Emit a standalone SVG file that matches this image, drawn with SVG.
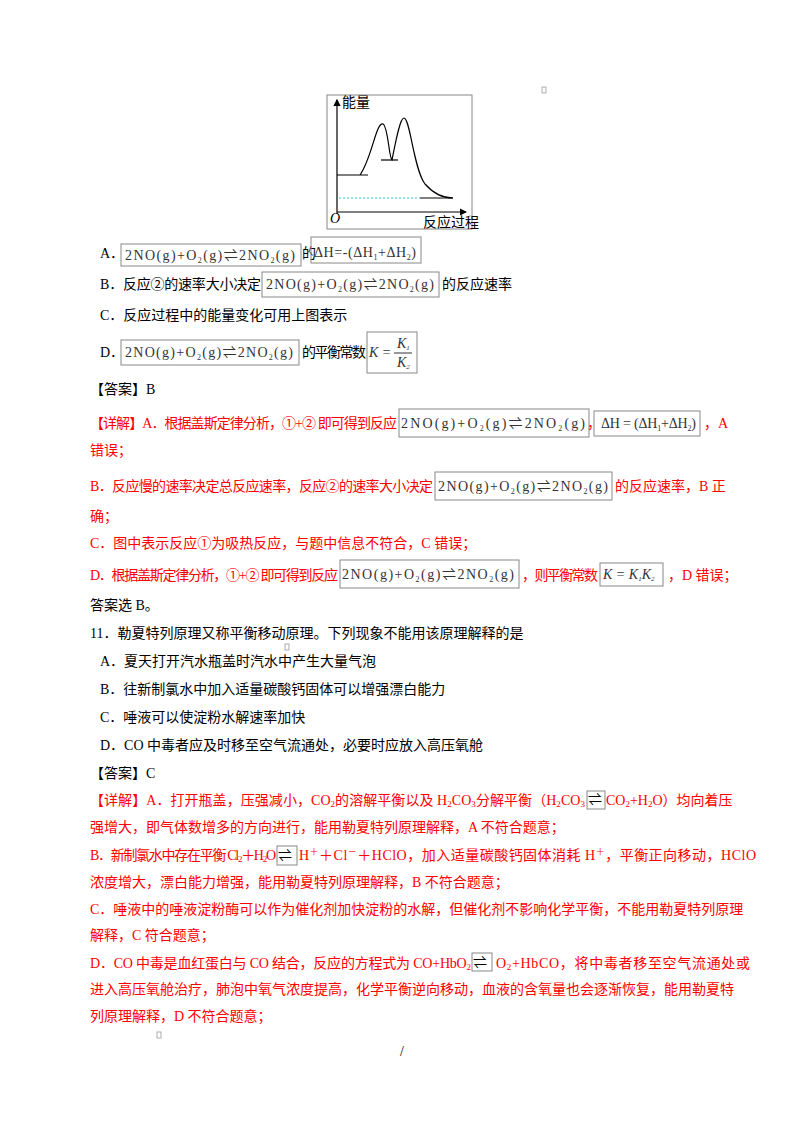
<svg xmlns="http://www.w3.org/2000/svg" width="800" height="1132" viewBox="0 0 800 1132">
<style>
text{font-family:"Liberation Serif","Noto Sans CJK SC",serif;font-size:14px;fill:#000}
.r{fill:#f00}
.bx{fill:none;stroke:#888;stroke-width:1}
.eq{font-size:14px;fill:#333}
.ln{fill:none;stroke:#000;stroke-width:1.2}
.sm{fill:none;stroke:#999;stroke-width:0.8}
</style>
<defs><marker id="ar" markerWidth="6" markerHeight="6" refX="5" refY="3" orient="auto"><path d="M0,0L6,3L0,6z" fill="#000"/></marker></defs>
<rect width="800" height="1132" fill="#fff"/>
<rect class="sm" x="542" y="87" width="4" height="6"/>
<g id="graph">
<rect class="bx" x="327" y="95" width="145" height="134"/>
<line class="ln" x1="337" y1="214" x2="337" y2="100" marker-end="url(#ar)"/>
<line class="ln" x1="337" y1="212" x2="466" y2="212" marker-end="url(#ar)"/>
<text x="342" y="107" font-size="11">能量</text>
<text x="330" y="223" font-size="11" font-style="italic">O</text>
<text x="423" y="227" font-size="11">反应过程</text>
<path class="ln" d="M337,175H368M360,175C372,158 376,122 383,124C388,126 389,158 392,160C396,140 400,118 404,118C410,118 414,170 425,184C433,193 443,198 453,198"/>
<line class="ln" x1="381" y1="160" x2="398" y2="160"/>
<line x1="339" y1="198" x2="420" y2="198" stroke="#3cc" stroke-dasharray="2,2"/>
<line class="ln" x1="420" y1="198" x2="453" y2="198"/>
</g>
<g id="options1">
<text x="100" y="258">A．</text>
<rect class="bx" x="121" y="244" width="180" height="22"/>
<text class="eq" x="125" y="260" textLength="170">2NO(g)+O<tspan font-size="8" dy="3">2</tspan><tspan dy="-3">(g)⇌2NO</tspan><tspan font-size="8" dy="3">2</tspan><tspan dy="-3">(g)</tspan></text>
<text x="302" y="258">的</text>
<rect class="bx" x="311" y="237" width="110" height="26"/>
<text class="eq" x="314" y="257" textLength="102">ΔH=-(ΔH<tspan font-size="8" dy="3">1</tspan><tspan dy="-3">+ΔH</tspan><tspan font-size="8" dy="3">2</tspan><tspan dy="-3">)</tspan></text>
<text x="100" y="289" textLength="161">B．反应②的速率大小决定</text>
<rect class="bx" x="262" y="272" width="177" height="25"/>
<text class="eq" x="266" y="289" textLength="168">2NO(g)+O<tspan font-size="8" dy="3">2</tspan><tspan dy="-3">(g)⇌2NO</tspan><tspan font-size="8" dy="3">2</tspan><tspan dy="-3">(g)</tspan></text>
<text x="442" y="289">的反应速率</text>
<text x="100" y="320">C．反应过程中的能量变化可用上图表示</text>
<text x="100" y="357">D．</text>
<rect class="bx" x="121" y="340" width="178" height="25"/>
<text class="eq" x="125" y="357" textLength="168">2NO(g)+O<tspan font-size="8" dy="3">2</tspan><tspan dy="-3">(g)⇌2NO</tspan><tspan font-size="8" dy="3">2</tspan><tspan dy="-3">(g)</tspan></text>
<text x="302" y="357" textLength="64">的平衡常数</text>
<rect class="bx" x="367" y="332" width="50" height="41"/>
<text class="eq" x="369" y="357" font-style="italic" font-size="12">K =</text>
<text class="eq" x="397" y="348" font-style="italic" font-size="11">K<tspan font-size="7" dy="2">1</tspan></text>
<line x1="394" y1="353" x2="412" y2="353" stroke="#333"/>
<text class="eq" x="397" y="367" font-style="italic" font-size="11">K<tspan font-size="7" dy="2">2</tspan></text>
</g>
<text x="90" y="394">【答案】B</text>
<g id="expl1">
<text class="r" x="90" y="428" textLength="307">【详解】A．根据盖斯定律分析，①+② 即可得到反应</text>
<rect class="bx" x="399" y="409" width="190" height="28"/>
<text class="eq" x="401" y="428" textLength="184">2NO(g)+O<tspan font-size="8" dy="3">2</tspan><tspan dy="-3">(g)⇌2NO</tspan><tspan font-size="8" dy="3">2</tspan><tspan dy="-3">(g)</tspan></text>
<text class="r" x="587" y="428" font-size="8">，</text>
<rect class="bx" x="594" y="411" width="106" height="25"/>
<text class="eq" x="601" y="428" textLength="95">ΔH = (ΔH<tspan font-size="8" dy="3">1</tspan><tspan dy="-3">+ΔH</tspan><tspan font-size="8" dy="3">2</tspan><tspan dy="-3">)</tspan></text>
<text class="r" x="704" y="428">，A</text>
<text class="r" x="90" y="455">错误；</text>
<text class="r" x="90" y="491" textLength="343">B．反应慢的速率决定总反应速率，反应②的速率大小决定</text>
<rect class="bx" x="435" y="472" width="177" height="28"/>
<text class="eq" x="438" y="491" textLength="170">2NO(g)+O<tspan font-size="8" dy="3">2</tspan><tspan dy="-3">(g)⇌2NO</tspan><tspan font-size="8" dy="3">2</tspan><tspan dy="-3">(g)</tspan></text>
<text class="r" x="615" y="491">的反应速率，B 正</text>
<text class="r" x="90" y="521">确；</text>
<text class="r" x="90" y="548">C．图中表示反应①为吸热反应，与题中信息不符合，C 错误；</text>
<text class="r" x="90" y="580" textLength="248">D．根据盖斯定律分析，①+② 即可得到反应</text>
<rect class="bx" x="340" y="560" width="179" height="28"/>
<text class="eq" x="342" y="579" textLength="172">2NO(g)+O<tspan font-size="8" dy="3">2</tspan><tspan dy="-3">(g)⇌2NO</tspan><tspan font-size="8" dy="3">2</tspan><tspan dy="-3">(g)</tspan></text>
<text class="r" x="522" y="580" textLength="76">，则平衡常数</text>
<rect class="bx" x="600" y="563" width="63" height="23"/>
<text class="eq" x="603" y="579" font-style="italic" font-size="11">K = K<tspan font-size="7" dy="2">1</tspan><tspan dy="-2">K</tspan><tspan font-size="7" dy="2">2</tspan></text>
<text class="r" x="668" y="580">，D 错误；</text>
<text x="90" y="610">答案选 B。</text>
</g>
<g id="q11">
<text x="90" y="638">11．勒夏特列原理又称平衡移动原理。下列现象不能用该原理解释的是</text>
<rect class="sm" x="285" y="644" width="4" height="6"/>
<text x="100" y="666">A．夏天打开汽水瓶盖时汽水中产生大量气泡</text>
<text x="100" y="694">B．往新制氯水中加入适量碳酸钙固体可以增强漂白能力</text>
<text x="100" y="722">C．唾液可以使淀粉水解速率加快</text>
<text x="100" y="750">D．CO 中毒者应及时移至空气流通处，必要时应放入高压氧舱</text>
<text x="90" y="778">【答案】C</text>
</g>
<g id="expl2">
<text class="r" x="90" y="805" textLength="495">【详解】A．打开瓶盖，压强减小，CO<tspan font-size="9" dy="2">2</tspan><tspan dy="-2">的溶解平衡以及 H</tspan><tspan font-size="9" dy="2">2</tspan><tspan dy="-2">CO</tspan><tspan font-size="9" dy="2">3</tspan><tspan dy="-2">分解平衡（H</tspan><tspan font-size="9" dy="2">2</tspan><tspan dy="-2">CO</tspan><tspan font-size="9" dy="2">3</tspan></text>
<rect class="bx" x="587" y="791" width="18" height="18"/>
<text x="588" y="804" font-size="12">⇌</text>
<text class="r" x="606" y="805">CO<tspan font-size="9" dy="2">2</tspan><tspan dy="-2">+H</tspan><tspan font-size="9" dy="2">2</tspan><tspan dy="-2">O）均向着压</tspan></text>
<text class="r" x="90" y="832">强增大，即气体数增多的方向进行，能用勒夏特列原理解释，A 不符合题意；</text>
<text class="r" x="90" y="860" textLength="186">B．新制氯水中存在平衡 Cl<tspan font-size="9" dy="2">2</tspan><tspan dy="-2">＋H</tspan><tspan font-size="9" dy="2">2</tspan><tspan dy="-2">O</tspan></text>
<rect class="bx" x="277" y="846" width="20" height="19"/>
<text x="278" y="860" font-size="12">⇌</text>
<text class="r" x="299" y="860" textLength="457">H<tspan font-size="9" dy="-5">＋</tspan><tspan dy="5">＋Cl</tspan><tspan font-size="9" dy="-5">－</tspan><tspan dy="5">＋HClO，加入适量碳酸钙固体消耗 H</tspan><tspan font-size="9" dy="-5">＋</tspan><tspan dy="5">，平衡正向移动，HClO</tspan></text>
<text class="r" x="90" y="887">浓度增大，漂白能力增强，能用勒夏特列原理解释，B 不符合题意；</text>
<text class="r" x="90" y="914">C．唾液中的唾液淀粉酶可以作为催化剂加快淀粉的水解，但催化剂不影响化学平衡，不能用勒夏特列原理</text>
<text class="r" x="90" y="940">解释，C 符合题意；</text>
<text class="r" x="90" y="968" textLength="381">D．CO 中毒是血红蛋白与 CO 结合，反应的方程式为 CO+HbO<tspan font-size="9" dy="2">2</tspan></text>
<rect class="bx" x="472" y="953" width="20" height="18"/>
<text x="473" y="967" font-size="12">⇌</text>
<text class="r" x="496" y="968" textLength="254">O<tspan font-size="9" dy="2">2</tspan><tspan dy="-2">+HbCO，将中毒者移至空气流通处或</tspan></text>
<text class="r" x="90" y="994">进入高压氧舱治疗，肺泡中氧气浓度提高，化学平衡逆向移动，血液的含氧量也会逐渐恢复，能用勒夏特</text>
<text class="r" x="90" y="1021">列原理解释，D 不符合题意；</text>
</g>
<rect class="sm" x="157" y="1032" width="4" height="6"/>
<text x="400" y="1056" font-size="12">/</text>
</svg>
